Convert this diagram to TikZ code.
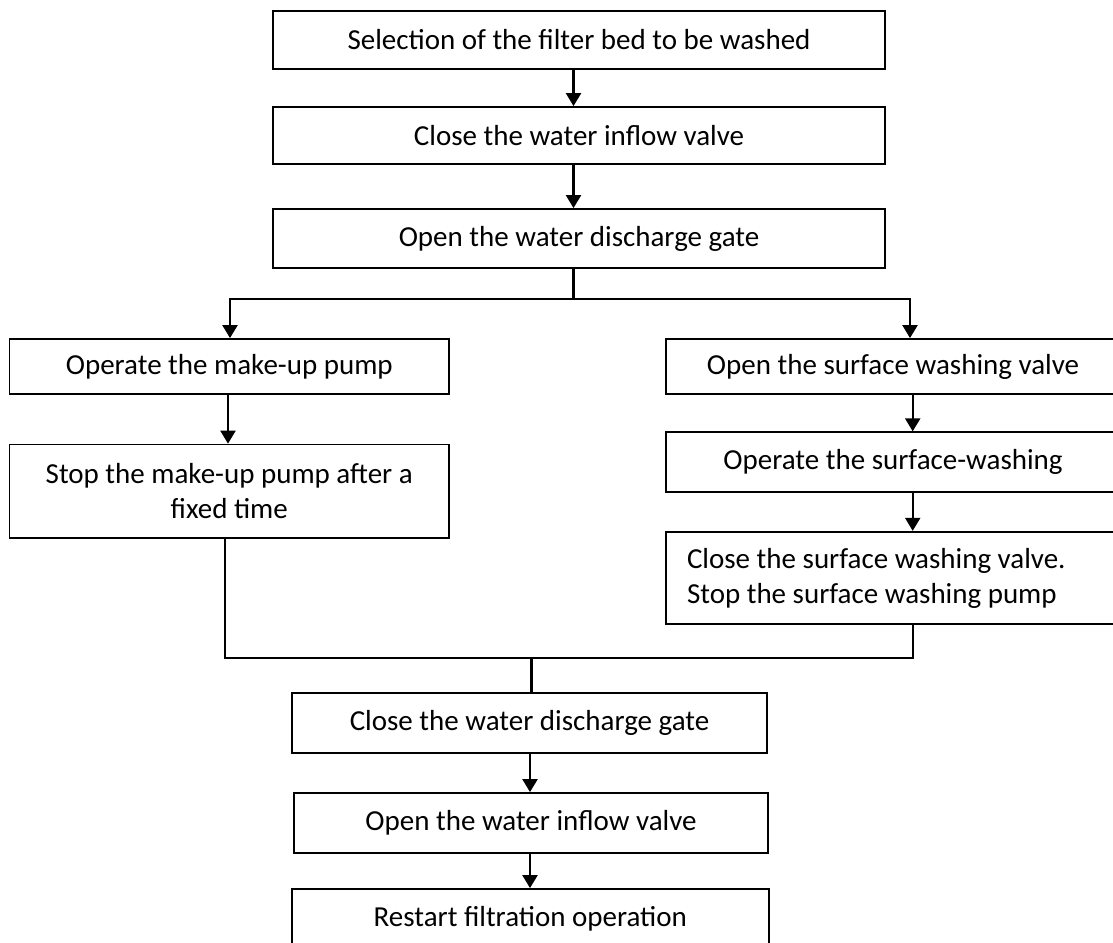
\documentclass[tikz,border=0pt]{standalone}
\usepackage{fontspec}
\setmainfont{Carlito}
\usetikzlibrary{arrows.meta}
\begin{document}
\begin{tikzpicture}[x=1pt,y=-1pt,
  box/.style={draw, line width=1.8pt, inner sep=0pt, font=\fontsize{29}{35}\selectfont, align=center},
  conn/.style={line width=2.2pt},
  arr/.style={conn, -{Triangle[width=15pt,length=13pt]}}]
\useasboundingbox (0,0) rectangle (1113,942);
% top column
\node[box, minimum width=612pt, minimum height=58pt] (s1) at (579,40) {Selection of the filter bed to be washed};
\node[box, minimum width=612pt, minimum height=57pt] (s2) at (579,135.5) {Close the water inflow valve};
\node[box, minimum width=612pt, minimum height=59pt] (s3) at (579,238.5) {Open the water discharge gate};
% left column
\node[box, minimum width=439.5pt, minimum height=55pt] (l1) at (229.25,366.5) {Operate the make-up pump};
\node[box, minimum width=439.5pt, minimum height=93.5pt] (l2) at (229.25,491.3) {Stop the make-up pump after a\\fixed time};
% right column
\node[box, minimum width=454pt, minimum height=55pt] (r1) at (893,366.5) {Open the surface washing valve};
\node[box, minimum width=454pt, minimum height=59.5pt] (r2) at (893,462) {Operate the surface-washing};
\node[box, minimum width=454pt, minimum height=92.5pt, align=flush left, text width=412pt, inner xsep=21pt] (r3) at (893,578) {Close the surface washing valve.\\Stop the surface washing pump};
% bottom column
\node[box, minimum width=475pt, minimum height=60pt] (b1) at (529.5,722.7) {Close the water discharge gate};
\node[box, minimum width=474pt, minimum height=60pt] (b2) at (531,823) {Open the water inflow valve};
\node[box, minimum width=476.6pt, minimum height=60pt] (b3) at (530.3,919) {Restart filtration operation};
% helper coordinates
\coordinate (xa) at (573.5,0);
\coordinate (br) at (573.5,299);
\coordinate (xL) at (230,0);
\coordinate (xL2) at (228,0);
\coordinate (xL3) at (225,0);
\coordinate (xR) at (910,0);
\coordinate (xR2) at (912.7,0);
\coordinate (mg) at (531.5,658.3);
\coordinate (xb) at (530,0);
% connectors
\draw[arr] (s1.south -| xa) -- (s2.north -| xa);
\draw[arr] (s2.south -| xa) -- (s3.north -| xa);
\draw[conn] (s3.south -| br) -- (br);
\draw[arr] (br) -| (xL |- l1.north);
\draw[arr] (br) -| (xR |- r1.north);
\draw[arr] (l1.south -| xL2) -- (l2.north -| xL2);
\draw[arr] (r1.south -| xR2) -- (r2.north -| xR2);
\draw[arr] (r2.south -| xR2) -- (r3.north -| xR2);
\draw[conn] (l2.south -| xL3) |- (mg);
\draw[conn] (r3.south -| xR2) |- (mg);
\draw[conn] (mg) -- (b1.north -| mg);
\draw[arr] (b1.south -| xb) -- (b2.north -| xb);
\draw[arr] (b2.south -| xb) -- (b3.north -| xb);
\end{tikzpicture}
\end{document}
